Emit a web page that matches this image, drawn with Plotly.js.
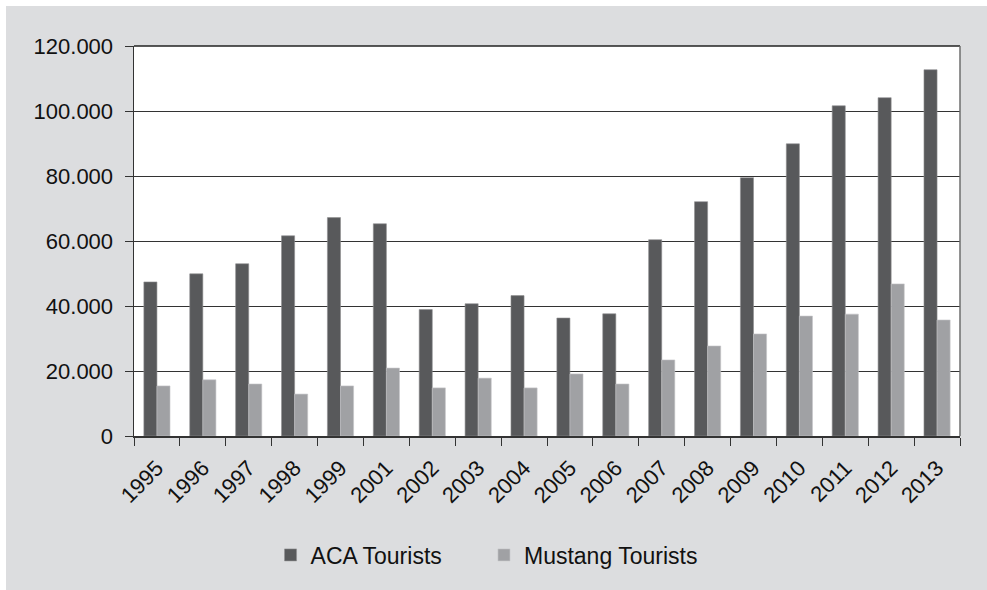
<!DOCTYPE html>
<html>
<head>
<meta charset="utf-8">
<script src="https://cdn.plot.ly/plotly-3.0.1.min.js"></script>
<style>
  html, body { margin: 0; padding: 0; background: #ffffff; }
  #chart { width: 987px; height: 590px; }
</style>
</head>
<body>
<div id="chart"></div>
<script>
// Tourist arrivals per year
const years = ['1995','1996','1997','1998','1999','2001','2002','2003','2004',
               '2005','2006','2007','2008','2009','2010','2011','2012','2013'];
const acaTourists = [47400, 49900, 53000, 61600, 67200, 65300, 38900, 40700, 43200,
                     36300, 37600, 60400, 72100, 79500, 89900, 101600, 104100, 112700];
const mustangTourists = [15400, 17300, 16000, 12900, 15400, 20900, 14800, 17800, 14800,
                         19100, 16000, 23400, 27700, 31400, 36900, 37500, 46800, 35700];
const yTicks = [0, 20000, 40000, 60000, 80000, 100000, 120000];

const FONT = 'Liberation Sans, Arial, sans-serif';

const traces = [
  {
    type: 'bar', name: 'ACA Tourists', x: years, y: acaTourists, legend: 'legend',
    marker: { color: '#58595b', line: { color: '#8e8f91', width: 0.6 } }
  },
  {
    type: 'bar', name: 'Mustang Tourists', x: years, y: mustangTourists, legend: 'legend2',
    marker: { color: '#a0a1a4', line: { color: '#c4c5c7', width: 0.6 } }
  }
];

// each series gets its own legend box so the two entries sit apart
function legendBox(xFrac) {
  return {
    orientation: 'h',
    x: xFrac, xanchor: 'left',
    y: -0.305, yanchor: 'middle',
    bgcolor: 'rgba(0,0,0,0)',
    font: { family: FONT, size: 23, color: '#111111' }
  };
}

const layout = {
  width: 987, height: 590,
  paper_bgcolor: '#ffffff',
  plot_bgcolor: '#ffffff',
  margin: { l: 134, r: 27, t: 46, b: 154, pad: 0 },
  barmode: 'group',
  bargap: 0.43,
  bargroupgap: 0,
  separators: ',.',
  font: { family: FONT, size: 22, color: '#111111' },
  showlegend: true,
  legend: legendBox(0.1653),
  legend2: legendBox(0.4237),
  xaxis: {
    type: 'category',
    tickangle: -45,
    tickson: 'boundaries',
    ticks: 'outside', ticklen: 8, tickcolor: '#333333', tickwidth: 1,
    ticklabelstandoff: 9,
    showline: true, linecolor: '#333333', linewidth: 1.5,
    mirror: false,
    showgrid: false,
    tickfont: { family: FONT, size: 22, color: '#111111' },
    fixedrange: true
  },
  yaxis: {
    range: [0, 120000],
    tickvals: yTicks,
    tickformat: ',d',
    ticks: 'outside', ticklen: 8, tickcolor: '#333333', tickwidth: 1,
    ticklabelstandoff: 7,
    showline: true, linecolor: '#333333', linewidth: 1.5,
    showgrid: true, gridcolor: '#333333', gridwidth: 1,
    zeroline: false,
    tickfont: { family: FONT, size: 22, color: '#111111' },
    fixedrange: true
  },
  shapes: [
    // grey panel behind the chart
    { type: 'rect', xref: 'paper', yref: 'paper', layer: 'below',
      x0: -128 / 826, x1: 1.04, y0: -0.42, y1: 1 + 40 / 390,
      fillcolor: '#dcdddf', line: { width: 0 } },
    // white plotting area
    { type: 'rect', xref: 'paper', yref: 'paper', layer: 'below',
      x0: 0, x1: 1, y0: 0, y1: 1,
      fillcolor: '#ffffff', line: { width: 0 } },
    // top border of plotting area
    { type: 'line', xref: 'paper', yref: 'paper', layer: 'above',
      x0: 0, x1: 1, y0: 1, y1: 1, line: { color: '#222222', width: 1.5 } },
    // right border of plotting area
    { type: 'line', xref: 'paper', yref: 'paper', layer: 'above',
      x0: 1, x1: 1, y0: 0, y1: 1, line: { color: '#6e6e6e', width: 1.5 } }
  ]
};

Plotly.newPlot('chart', traces, layout, { displayModeBar: false, staticPlot: true });
</script>
</body>
</html>
